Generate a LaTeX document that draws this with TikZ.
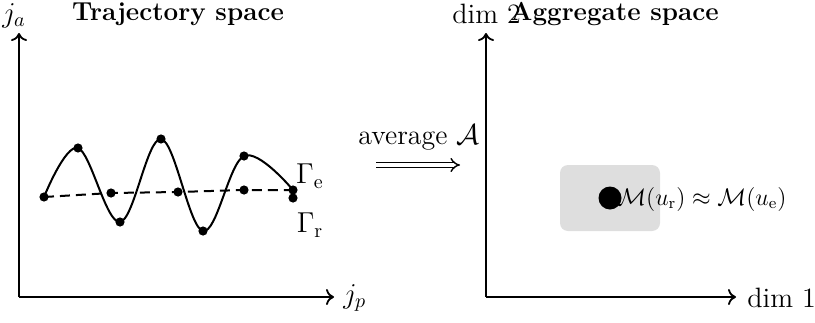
\documentclass[tikz,border=0pt]{standalone}
\usepackage{amsmath,amssymb}
\usetikzlibrary{arrows.meta,arrows}
\begin{document}
\begin{tikzpicture}[x=0.5pt,y=-0.5pt,
  axis/.style={line width=0.9pt,-{To[length=4pt,width=8pt]}},
  dot/.style={circle,fill=black,inner sep=0pt,minimum size=4.6pt},
  bigdot/.style={circle,fill=black,inner sep=0pt,minimum size=11.5pt},
  lbl/.style={font=\fontsize{14}{16}\selectfont,inner sep=0pt},
  mlbl/.style={font=\fontsize{11.5}{14}\selectfont,inner sep=0pt},
  ttl/.style={font=\fontsize{13}{15}\selectfont\bfseries,inner sep=0pt},
  curve/.style={line width=1pt},
]
\useasboundingbox (0,0) rectangle (815,322);
% left axes
\coordinate (lo) at (19,297);
\coordinate (ly) at (19,33);
\coordinate (lx) at (334,297);
\draw[axis] (lo) -- (ly);
\draw[axis] (lo) -- (lx);
\node[lbl] (ja) at (14,16) {$j_a$};
\node[ttl] (t1) at (178,14) {Trajectory space};
\node[lbl,anchor=west] (jp) at (343,298) {$j_p$};
% solid curve points
\node[dot] (e1) at (44,197) {};
\node[dot] (e2) at (78,148) {};
\node[dot] (e3) at (120,222) {};
\node[dot] (e4) at (161,139) {};
\node[dot] (e5) at (203,231) {};
\node[dot] (e6) at (244,156) {};
\node[dot] (e7) at (293,190) {};
\draw[curve] plot[smooth,tension=0.6] coordinates {(44,197) (78,148) (120,222) (161,139) (203,231) (244,156) (293,190)};
% dashed points
\node[dot] (r2) at (111,193) {};
\node[dot] (r3) at (178,192) {};
\node[dot] (r4) at (244,190) {};
\node[dot] (r5) at (293,198) {};
\draw[curve,dash pattern=on 5pt off 3pt] (e1.center) -- (r2.center) -- (r3.center) -- (r4.center) -- (e7.center);
\node[lbl] (ge) at (310,176) {$\Gamma_{\mathrm{e}}$};
\node[lbl] (gr) at (310,225) {$\Gamma_{\mathrm{r}}$};
% middle arrow
\node[lbl] (avg) at (419,138) {average $\mathcal{A}$};
\coordinate (as) at (376,165);
\coordinate (ae) at (460,165);
\draw[double,double distance=1.7pt,line width=0.7pt,-Implies] (as) -- (ae);
% right axes
\coordinate (ro) at (486,297);
\coordinate (ry) at (486,33);
\coordinate (rx) at (736,297);
\draw[axis] (ro) -- (ry);
\draw[axis] (ro) -- (rx);
\node[lbl,anchor=west] (d1) at (747,298) {dim 1};
\node[lbl,anchor=west] (d2) at (452,14) {dim 2};
\node[ttl,anchor=west] (t2) at (510,14) {Aggregate space};
\node[fill=black!13,rounded corners=4pt,minimum width=50pt,minimum height=33pt,inner sep=0pt] (box) at (610,198) {};
\node[bigdot] (m) at (610,198) {};
\node[mlbl,anchor=west] (ml) at (617,199) {$\mathcal{M}(u_{\mathrm{r}})\approx\mathcal{M}(u_{\mathrm{e}})$};
\end{tikzpicture}
\end{document}
